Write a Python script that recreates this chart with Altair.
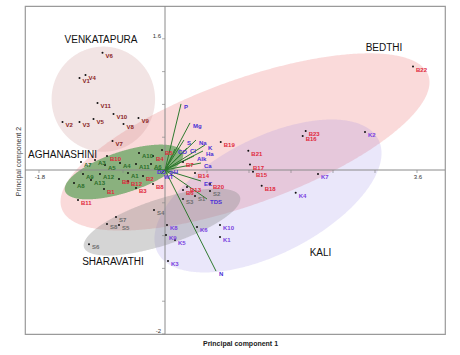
import altair as alt
import numpy as np
import pandas as pd

# ---------------- data ----------------
ven_lab = ["V1", "V2", "V3", "V4", "V5", "V6", "V7", "V8", "V9", "V10", "V11"]
ven_x = [-1.221, -1.464, -1.221, -1.136, -1.021, -0.893, -0.75, -0.593, -0.379, -0.736, -0.964]
ven_y = [1.123, 0.586, 0.586, 1.160, 0.623, 1.429, 0.354, 0.562, 0.635, 0.684, 0.818]

agh_lab = ["A1", "A3", "A4", "A5", "A6", "A7", "A8", "A9", "A10", "A11", "A12", "A13"]
agh_x = [-0.529, -1.0, -0.643, -0.857, -0.2, -1.2, -1.3, -1.171, -0.371, -0.414, -0.929, -1.057]
agh_y = [-0.037, 0.122, 0.085, 0.061, 0.073, 0.098, -0.159, -0.049, 0.208, 0.073, -0.049, -0.122]

bed_lab = ["B1", "B2", "B3", "B4", "B5", "B6", "B7", "B8", "B9", "B10", "B11", "B12",
           "B13", "B14", "B15", "B16", "B17", "B18", "B19", "B20", "B21", "B22", "B23"]
bed_x = [-0.871, -0.314, -0.414, -0.171, -0.043, 0.257, 0.257, -0.171, -0.657, -0.829, -1.243, -0.529,
         0.314, 0.429, 1.257, 1.967, 1.214, 1.381, 0.796, 0.643, 1.19, 3.543, 2.01]
bed_y = [-0.232, -0.073, -0.22, 0.171, 0.244, -0.244, 0.098, -0.171, -0.11, 0.171, -0.366, -0.134,
         -0.208, -0.037, -0.021, 0.415, 0.067, -0.192, 0.342, -0.171, 0.236, 1.261, 0.476]

sha_lab = ["S1", "S2", "S3", "S4", "S5", "S6", "S7", "S8"]
sha_x = [0.429, 0.643, 0.257, -0.157, -0.657, -1.086, -0.7, -0.829]
sha_y = [-0.317, -0.256, -0.354, -0.488, -0.672, -0.904, -0.574, -0.659]

kal_lab = ["K1", "K2", "K3", "K4", "K5", "K6", "K7", "K8", "K9", "K10"]
kal_x = [0.786, 2.857, 0.043, 1.867, 0.143, 0.457, 2.186, 0.029, 0.014, 0.786]
kal_y = [-0.818, 0.464, -1.111, -0.277, -0.855, -0.696, -0.049, -0.672, -0.794, -0.672]

var_lab = ["P", "Mg", "S", "Na", "K", "Ha", "CO", "Cl", "Alk", "Ca", "EC", "TDS", "N", "DO", "pH", "WT"]
var_x = [0.229, 0.357, 0.271, 0.443, 0.571, 0.543, 0.143, 0.314, 0.414, 0.514, 0.514, 0.6, 0.729, -0.157, 0.029, -0.057]
var_y = [0.806, 0.574, 0.366, 0.366, 0.305, 0.232, 0.256, 0.269, 0.171, 0.085, -0.134, -0.354, -1.233, 0.012, 0.012, -0.049]

# confidence ellipses: centre and two conjugate semi-axis vectors (data units)
ell_name = ["Bedthi", "Venkatapura", "Kali", "Sharavathi", "Aghanashini"]
ell_cx = [1.143, -0.881, 1.471, -0.043, -0.586]
ell_cy = [0.342, 0.864, -0.317, -0.635, -0.024]
ell_ux = [2.618, 0.739, 1.578, 1.114, 0.842]
ell_uy = [0.814, 0.0, 0.687, 0.309, 0.234]
ell_vx = [-0.303, 0.0, -0.376, -0.102, -0.0905]
ell_vy = [0.711, 0.641, 0.631, 0.267, 0.238]

region_lab = ["VENKATAPURA", "AGHANASHINI", "SHARAVATHI", "BEDTHI", "KALI"]
region_x = [-0.914, -1.464, -0.743, 3.129, 2.221]
region_y = [1.587, 0.183, -1.125, 1.49, -1.013]

x_ticks = [-1.8, -1.2, -0.6, 0.6, 1.2, 1.8, 2.4, 3.0, 3.6]
y_ticks = [-2.0, -1.6, -1.2, -0.8, -0.4, 0.4, 0.8, 1.2, 1.6]
x_tick_labels = ["-1.8", "3.6"]
x_tick_label_pos = [-1.8, 3.6]
y_tick_labels = ["1.6", "-2"]
y_tick_label_pos = [1.6, -2.0]

# ---------------- styling ----------------
FONT = "Liberation Sans"
ell_fill = ["#ee7a7a", "#cb9393", "#8c78e6", "#8a8a8a", "#459845"]
ell_op = [0.28, 0.25, 0.18, 0.36, 0.62]
grp_dom = ["V", "A", "B", "S", "K"]
grp_col = ["#8b1e1e", "#2a6e2a", "#e0283c", "#6e6e6e", "#7a3fe0"]

xs = alt.Scale(domain=[-2, 4], nice=False, zero=False)
ys = alt.Scale(domain=[-2, 2], nice=False, zero=False)
xaxis = alt.Axis(title="Principal component 1", labels=False, ticks=False, domain=False, grid=False,
                 titlePadding=5, titleFontSize=7, titleFontWeight="bold", titleFont=FONT,
                 titleColor="#222222", titleX=215)
yaxis = alt.Axis(title="Principal component 2", labels=False, ticks=False, domain=False, grid=False,
                 titlePadding=4, titleFontSize=7, titleFontWeight="normal", titleFont=FONT,
                 titleColor="#333333", titleY=155)


def X(f):
    return alt.X(f, type="quantitative", scale=xs, axis=xaxis)


def Y(f):
    return alt.Y(f, type="quantitative", scale=ys, axis=yaxis)


def ell_band(name, cx, cy, ux, uy, vx, vy, n=301):
    S = np.array([[ux * ux + vx * vx, ux * uy + vx * vy],
                  [ux * uy + vx * vy, uy * uy + vy * vy]])
    M = np.linalg.inv(S)
    xr = np.sqrt(S[0, 0])
    dx = xr * np.cos(np.linspace(np.pi, 0, n))
    a = M[1, 1]
    b = 2 * M[0, 1] * dx
    c = M[0, 0] * dx ** 2 - 1
    disc = np.clip(b * b - 4 * a * c, 0, None)
    lo = cy + (-b - np.sqrt(disc)) / (2 * a)
    hi = cy + (-b + np.sqrt(disc)) / (2 * a)
    return pd.DataFrame({"x": cx + dx, "lo": lo, "hi": hi, "region": name})


layers = []
for i, nm in enumerate(ell_name):
    df = ell_band(nm, ell_cx[i], ell_cy[i], ell_ux[i], ell_uy[i], ell_vx[i], ell_vy[i])
    layers.append(alt.Chart(df).mark_area(color=ell_fill[i], opacity=ell_op[i], clip=True)
                  .encode(x=X("x"), y=Y("lo"), y2="hi"))

# centre axes
layers.append(alt.Chart(pd.DataFrame({"v": [0]})).mark_rule(color="#8a8a8a", strokeWidth=1)
              .encode(x=X("v")))
layers.append(alt.Chart(pd.DataFrame({"v": [0]})).mark_rule(color="#8a8a8a", strokeWidth=1)
              .encode(y=Y("v")))
layers.append(alt.Chart(pd.DataFrame({"t": x_ticks, "z": 0})).mark_tick(
    orient="vertical", size=3, color="#8a8a8a", thickness=1, yOffset=1.5)
              .encode(x=X("t"), y=Y("z")))
layers.append(alt.Chart(pd.DataFrame({"t": y_ticks, "z": 0})).mark_tick(
    orient="horizontal", size=3, color="#8a8a8a", thickness=1, xOffset=-1.5)
              .encode(y=Y("t"), x=X("z")))
layers.append(alt.Chart(pd.DataFrame({"t": x_tick_label_pos, "z": 0, "lab": x_tick_labels}))
              .mark_text(fontSize=6, font=FONT, color="#333333", dy=7, dx=1)
              .encode(x=X("t"), y=Y("z"), text="lab:N"))
layers.append(alt.Chart(pd.DataFrame({"t": y_tick_label_pos, "z": 0, "lab": y_tick_labels}))
              .mark_text(fontSize=6, font=FONT, color="#333333", align="right", dx=-4, dy=-3)
              .encode(y=Y("t"), x=X("z"), text="lab:N"))

# loading vectors
vdf = pd.DataFrame({"x": var_x, "y": var_y, "lab": var_lab})
layers.append(alt.Chart(vdf).transform_calculate(ox="0", oy="0").mark_rule(color="#2f7a2f", strokeWidth=1)
              .encode(x=X("ox"), y=Y("oy"), x2="x:Q", y2="y:Q"))

# samples
sdf = pd.concat([
    pd.DataFrame({"x": ven_x, "y": ven_y, "lab": ven_lab, "g": "V"}),
    pd.DataFrame({"x": agh_x, "y": agh_y, "lab": agh_lab, "g": "A"}),
    pd.DataFrame({"x": bed_x, "y": bed_y, "lab": bed_lab, "g": "B"}),
    pd.DataFrame({"x": sha_x, "y": sha_y, "lab": sha_lab, "g": "S"}),
    pd.DataFrame({"x": kal_x, "y": kal_y, "lab": kal_lab, "g": "K"}),
], ignore_index=True)
layers.append(alt.Chart(sdf).mark_circle(size=4, color="#111111", opacity=1)
              .encode(x=X("x"), y=Y("y")))
layers.append(alt.Chart(sdf).mark_text(align="left", baseline="middle", dx=3, dy=3, fontSize=6,
                                       fontWeight="bold", font=FONT)
              .encode(x=X("x"), y=Y("y"), text="lab:N",
                      color=alt.Color("g:N", scale=alt.Scale(domain=grp_dom, range=grp_col), legend=None)))
layers.append(alt.Chart(vdf).mark_text(align="left", baseline="middle", dx=3, dy=3, fontSize=6,
                                       fontWeight="bold", font=FONT, color="#4a2fd6")
              .encode(x=X("x"), y=Y("y"), text="lab:N"))

# region names
rdf = pd.DataFrame({"x": region_x, "y": region_y, "lab": region_lab})
layers.append(alt.Chart(rdf).mark_text(fontSize=10, font=FONT, color="#111111")
              .encode(x=X("x"), y=Y("y"), text="lab:N"))

chart = alt.layer(*layers).properties(
    width=420, height=328,
    autosize=alt.AutoSizeParams(type="none"),
    padding={"left": 25, "top": 6, "right": 15, "bottom": 21},
).configure_view(stroke="#9a9a9a", strokeWidth=1.2)

chart.save("out.html", embed_options={"renderer": "svg", "actions": False})
